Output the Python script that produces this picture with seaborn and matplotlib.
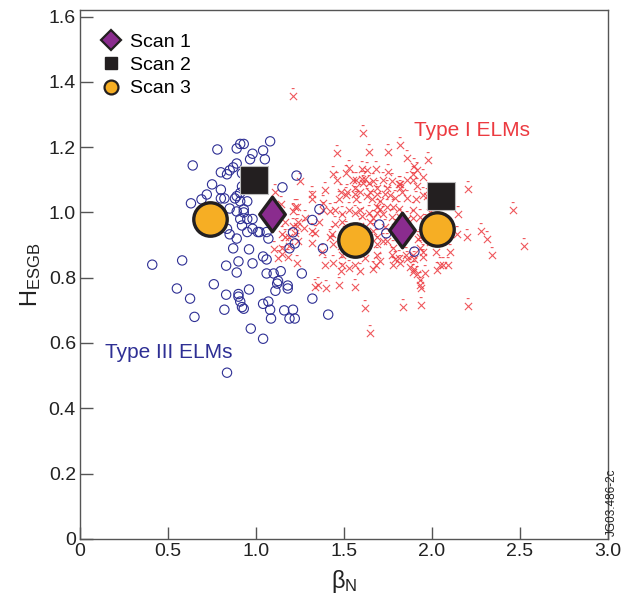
import numpy as np
import pandas as pd
import matplotlib
matplotlib.use("Agg")
import matplotlib.pyplot as plt
from matplotlib.path import Path
from matplotlib.lines import Line2D
import seaborn as sns

# Type III ELMs (open blue circles)
t3_beta = [0.78, 0.89, 0.91, 1.08, 1.04, 0.98, 1.05, 0.64, 0.89, 0.87, 0.85, 0.835, 0.80, 0.966,
           1.23, 0.75, 1.15, 0.80, 0.72, 0.69, 0.63, 0.80, 0.82, 0.88, 0.89, 0.91, 0.95, 0.85,
           0.89, 0.93, 0.91, 0.95, 0.98, 0.835, 0.85, 0.89, 0.95, 0.98, 1.02, 1.06, 0.87, 0.96,
           1.07, 1.01, 1.36, 1.32, 1.21, 1.22, 1.19, 1.38, 1.70, 1.74, 1.90, 0.41, 0.58, 0.83,
           0.90, 0.98, 1.04, 1.06, 0.89, 1.06, 1.10, 1.14, 1.12, 1.125, 1.18, 1.18, 1.26, 0.76,
           0.55, 0.625, 0.83, 0.90, 0.96, 1.11, 1.04, 1.07, 0.91, 0.90, 0.92, 0.93, 0.82, 0.65,
           1.08, 1.085, 1.16, 1.19, 1.22, 1.21, 1.32, 1.41, 0.97, 1.04, 0.835, 0.93, 0.92, 0.92,
           0.91, 0.93, 0.92]
t3_h = [1.193, 1.196, 1.21, 1.218, 1.19, 1.18, 1.163, 1.144, 1.15, 1.138, 1.129, 1.117, 1.123,
        1.163, 1.113, 1.086, 1.077, 1.07, 1.055, 1.04, 1.028, 1.043, 1.043, 1.043, 1.05, 1.034,
        1.034, 1.012, 1.003, 1.01, 0.98, 0.98, 0.98, 0.95, 0.933, 0.92, 0.94, 0.95, 0.94, 0.94,
        0.89, 0.887, 0.92, 0.94, 1.01, 0.977, 0.939, 0.905, 0.89, 0.89, 0.963, 0.936, 0.88, 0.84,
        0.853, 0.837, 0.85, 0.844, 0.865, 0.856, 0.816, 0.813, 0.813, 0.82, 0.782, 0.79, 0.776,
        0.767, 0.813, 0.78, 0.767, 0.736, 0.748, 0.75, 0.764, 0.76, 0.72, 0.727, 0.727, 0.742,
        0.71, 0.705, 0.702, 0.68, 0.702, 0.675, 0.70, 0.675, 0.675, 0.702, 0.736, 0.687, 0.644,
        0.613, 0.509, 1.21, 1.12, 1.08, 1.06, 1.00, 0.96]

# Type I ELMs (red crosses)
t1_beta = [1.21, 1.61, 1.46, 1.64, 1.75, 1.82, 1.86, 1.98, 1.53, 1.44, 1.46, 1.60, 1.63, 1.68,
           1.75, 1.90, 1.915, 1.89, 1.95, 1.57, 1.60, 1.61, 1.56, 1.64, 1.665, 1.69, 1.77, 1.82,
           1.86, 1.89, 1.915, 2.205, 1.32, 1.32, 1.38, 1.48, 1.51, 1.47, 1.56, 1.57, 1.59, 1.65,
           1.69, 1.66, 1.705, 1.745, 1.76, 1.79, 1.95, 1.97, 1.21, 1.22, 1.165, 1.15, 1.28, 1.27,
           1.38, 1.45, 1.49, 1.49, 1.53, 1.56, 1.59, 1.60, 1.64, 1.665, 1.65, 1.69, 1.705, 1.72,
           1.89, 1.89, 1.86, 2.15, 2.46, 1.335, 1.32, 1.43, 1.44, 1.375, 1.48, 1.49, 1.44, 1.49,
           1.665, 1.69, 1.69, 1.72, 1.69, 1.705, 1.68, 1.665, 1.745, 1.78, 1.77, 1.79, 1.78, 1.81,
           1.82, 1.85, 1.86, 1.89, 1.90, 1.875, 1.90, 1.89, 1.915, 1.93, 1.95, 1.95, 1.96, 1.93,
           1.94, 2.03, 2.045, 2.06, 2.14, 2.20, 2.28, 2.31, 2.34, 2.52, 1.35, 1.40, 1.47, 1.56,
           1.62, 1.835, 1.94, 2.205, 1.65, 1.25, 1.11, 1.23, 1.24, 1.23, 1.42, 1.45, 1.42, 1.165,
           1.19, 1.24, 1.22, 1.125, 1.15, 1.18, 1.19, 1.10, 1.23, 1.335, 1.14, 1.21, 1.15, 1.32,
           1.93, 1.92, 1.82, 1.83, 1.86, 1.78, 1.745, 1.69, 1.517, 1.63, 1.73, 1.81, 1.62, 1.53,
           1.59, 1.62, 1.51, 1.73, 1.79, 1.77, 1.82, 1.81, 1.55, 1.72, 1.51, 1.93, 1.96, 1.99,
           1.91, 1.85, 1.93, 1.99, 2.02, 2.10, 2.09, 1.48, 1.53, 1.59, 1.62, 1.56, 1.39, 1.36, 1.39]
t1_h = [1.356, 1.245, 1.181, 1.184, 1.184, 1.206, 1.166, 1.16, 1.135, 1.117, 1.098, 1.132, 1.129,
        1.132, 1.123, 1.141, 1.129, 1.117, 1.11, 1.10, 1.104, 1.089, 1.074, 1.089, 1.095, 1.074,
        1.095, 1.074, 1.098, 1.10, 1.08, 1.071, 1.058, 1.04, 1.03, 1.064, 1.055, 1.04, 1.058, 1.04,
        1.064, 1.064, 1.058, 1.04, 1.034, 1.074, 1.055, 1.043, 1.055, 1.049, 1.003, 1.018, 0.972,
        0.933, 0.982, 0.951, 1.009, 1.009, 0.994, 0.972, 1.009, 0.997, 1.009, 0.988, 0.997, 0.982,
        0.972, 0.997, 1.012, 0.994, 1.009, 0.982, 0.979, 0.994, 1.009, 0.936, 0.905, 0.933, 0.902,
        0.88, 0.896, 0.871, 0.844, 0.84, 0.942, 0.926, 0.902, 0.911, 0.871, 0.85, 0.84, 0.828,
        0.911, 0.89, 0.871, 0.856, 0.84, 0.859, 0.844, 0.871, 0.856, 0.871, 0.856, 0.834, 0.828,
        0.819, 0.81, 0.794, 0.88, 0.865, 0.816, 0.779, 0.767, 0.825, 0.84, 0.84, 0.933, 0.926,
        0.942, 0.92, 0.871, 0.896, 0.779, 0.767, 0.779, 0.773, 0.706, 0.709, 0.715, 0.712, 0.632,
        1.095, 1.064, 1.018, 0.972, 0.957, 1.003, 0.966, 0.926, 0.926, 0.926, 0.911, 0.936, 0.859,
        0.874, 0.865, 0.896, 0.887, 0.844, 0.773, 1.025, 0.957, 0.89, 0.942, 0.926, 0.92, 1.086,
        1.064, 1.043, 1.018, 1.018, 1.018, 1.064, 1.049, 1.058, 1.086, 1.104, 0.94, 0.96, 0.91,
        0.95, 0.955, 0.955, 0.985, 0.985, 1.01, 1.10, 1.10, 1.12, 0.985, 0.97, 1.00, 1.04, 0.94,
        0.89, 0.91, 0.88, 0.88, 0.84, 0.82, 0.83, 0.82, 0.86, 0.84, 0.84, 0.97, 1.07]

# scans
scan1_beta = [1.09, 1.83]
scan1_h = [0.994, 0.945]
scan2_beta = [0.99, 2.05]
scan2_h = [1.10, 1.05]
scan3_beta = [0.74, 1.56, 2.03]
scan3_h = [0.98, 0.917, 0.948]

navy = "#2e2f94"
red = "#ec3a40"
purple = "#8a2c8e"
dark = "#231f20"
orange = "#f6ae24"

plt.rcParams["font.family"] = ["Liberation Sans", "DejaVu Sans"]
fig = plt.figure(figsize=(6.21, 5.96), dpi=100)
ax = fig.add_axes([0.129, 0.096, 0.850, 0.887])

# cross with small dash above it
xmark = Path([(-1, -1), (1, 1), (-1, 1), (1, -1), (-0.5, 2.2), (0.3, 2.2)],
             [Path.MOVETO, Path.LINETO, Path.MOVETO, Path.LINETO, Path.MOVETO, Path.LINETO])
# slightly wide diamond
dmark = Path([(0, 1), (0.74, 0), (0, -1), (-0.74, 0), (0, 1)],
             [Path.MOVETO, Path.LINETO, Path.LINETO, Path.LINETO, Path.CLOSEPOLY])

t1 = pd.DataFrame({"beta": t1_beta, "h": t1_h})
t3 = pd.DataFrame({"beta": t3_beta, "h": t3_h})

sns.scatterplot(data=t1, x="beta", y="h", ax=ax, marker=xmark, s=130,
                color=red, edgecolor=red, linewidth=0.8, alpha=0.85, zorder=2)
sns.scatterplot(data=t3, x="beta", y="h", ax=ax, marker="o", s=45,
                color=navy, facecolor="none", edgecolor=navy, linewidth=0.8, zorder=3)

sns.scatterplot(x=scan2_beta, y=scan2_h, ax=ax, marker="s", s=400, color=dark,
                edgecolor="#bbbbbb", linewidth=0.8, zorder=5)
sns.scatterplot(x=scan1_beta, y=scan1_h, ax=ax, marker=dmark, s=620, color=purple,
                edgecolor=dark, linewidth=2.4, zorder=5)
sns.scatterplot(x=scan3_beta, y=scan3_h, ax=ax, marker="o", s=580, color=orange,
                edgecolor=dark, linewidth=2.4, zorder=5)

handles = [
    Line2D([], [], ls="none", marker="D", ms=10, mfc=purple, mec=dark, mew=1.6),
    Line2D([], [], ls="none", marker="s", ms=9, mfc=dark, mec=dark),
    Line2D([], [], ls="none", marker="o", ms=10, mfc=orange, mec=dark, mew=1.6),
]
ax.legend(handles, ["Scan 1", "Scan 2", "Scan 3"], loc="upper left",
          bbox_to_anchor=(0.018, 0.979), frameon=False, fontsize=14,
          handlelength=1.0, handletextpad=0.5, labelspacing=0.3, borderaxespad=0.2)

ax.text(1.9, 1.25, "Type I ELMs", color=red, fontsize=15, ha="left", va="center")
ax.text(0.14, 0.57, "Type III ELMs", color=navy, fontsize=15, ha="left", va="center")

ax.set_xlim(0, 3.0)
ax.set_ylim(0, 1.62)
ax.set_xticks([0, 0.5, 1.0, 1.5, 2.0, 2.5, 3.0])
ax.set_xticklabels(["0", "0.5", "1.0", "1.5", "2.0", "2.5", "3.0"])
ax.set_yticks([0, 0.2, 0.4, 0.6, 0.8, 1.0, 1.2, 1.4, 1.6])
ax.set_yticklabels(["0", "0.2", "0.4", "0.6", "0.8", "1.0", "1.2", "1.4", "1.6"])
ax.tick_params(direction="in", length=9, width=1, color="#555555",
               labelsize=14, labelcolor="#222222", pad=3)
for sp in ax.spines.values():
    sp.set_color("#555555")
    sp.set_linewidth(1.0)

ax.set_xlabel(r"$\mathregular{\beta_N}$", fontsize=17, color="#222222", labelpad=6)
ax.set_ylabel(r"$\mathregular{H_{ESGB}}$", fontsize=17, color="#222222", labelpad=4)

fig.text(0.986, 0.1, "JG03.486-2c", rotation=90, fontsize=8.5, color="#222222",
         ha="center", va="bottom")

fig.savefig("out.png", dpi=100)
